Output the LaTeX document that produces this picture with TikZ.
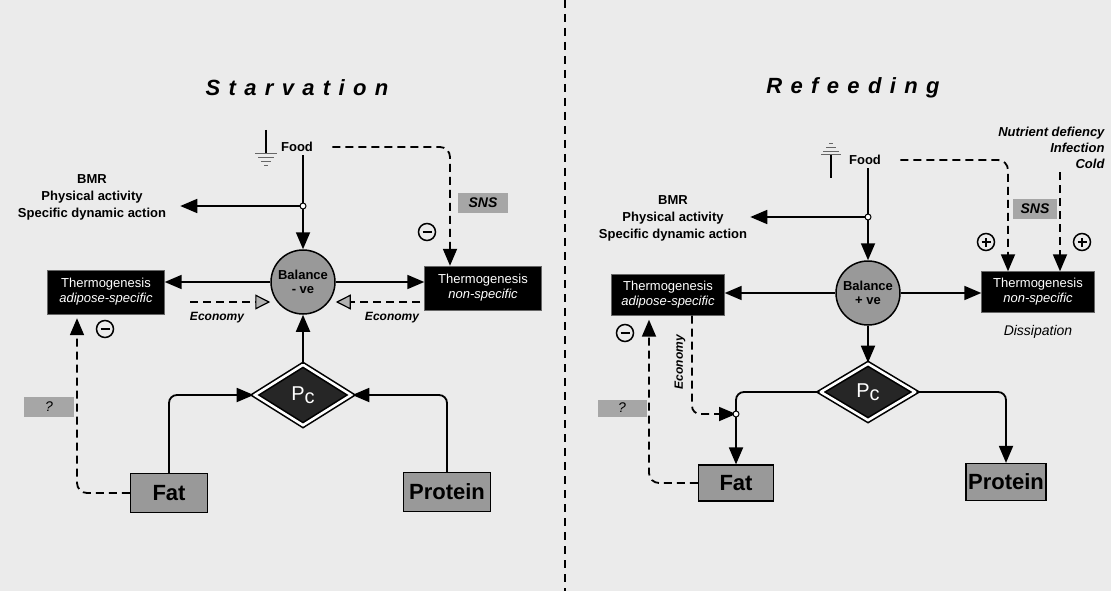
\documentclass[tikz,border=0pt]{standalone}
\usepackage{fontspec}
\setmainfont{Liberation Sans}
\usetikzlibrary{arrows.meta,shapes.geometric}

\begin{document}
\begin{tikzpicture}[x=1pt, y=-1pt,
  >={Triangle[length=17pt,width=14pt]},
  conn/.style={line width=1.8pt},
  dashline/.style={line width=1.8pt, dash pattern=on 8pt off 5pt},
  ecotip/.style={-{Triangle[length=15pt,width=15pt,open,fill=black!30,line width=1.2pt]}},
  title/.style={font=\fontsize{22}{26}\selectfont\bfseries\itshape\addfontfeature{LetterSpace=38}},
  label13/.style={font=\fontsize{13}{15}\selectfont\bfseries},
  bmr/.style={align=center, inner sep=2pt, font=\fontsize{13}{17}\selectfont\bfseries},
  bal/.style={circle, draw, line width=1.5pt, fill=black!40, minimum size=64pt, inner sep=0pt,
    align=center, font=\fontsize{13}{14}\selectfont\bfseries},
  thermo/.style={fill=black, draw=black!60, text=white, minimum width=117pt, minimum height=44pt,
    align=center, inner sep=1pt, font=\fontsize{13}{15}\selectfont},
  store/.style={draw, line width=1.2pt, fill=black!40, minimum height=39pt, inner sep=2pt,
    font=\fontsize{22}{24}\selectfont\bfseries},
  pcbox/.style={diamond, draw=black, line width=1.6pt, double=white, double distance=2.6pt,
    fill=black!85, text=white, inner sep=0pt, minimum width=97pt, minimum height=61pt,
    font=\fontsize{20}{20}\selectfont},
  tag/.style={fill=black!35, minimum width=50pt, minimum height=20pt, inner sep=0pt,
    font=\fontsize{14}{14}\selectfont\bfseries\itshape},
  sign/.style={circle, draw, line width=1.5pt, minimum size=17pt, inner sep=0pt},
  minus/.style={sign, path picture={\draw[line width=2pt]
    ([xshift=-4.5pt]path picture bounding box.center) -- ([xshift=4.5pt]path picture bounding box.center);}},
  plus/.style={sign, path picture={\draw[line width=1.6pt]
    ([xshift=-4.5pt]path picture bounding box.center) -- ([xshift=4.5pt]path picture bounding box.center)
    ([yshift=-4.5pt]path picture bounding box.center) -- ([yshift=4.5pt]path picture bounding box.center);}},
  eco/.style={font=\fontsize{12}{12}\selectfont\bfseries\itshape},
  junc/.style={circle, draw, fill=white, line width=1pt, inner sep=0pt, minimum size=6pt}]

\useasboundingbox (0,0) rectangle (1111,591);
\fill[black!8] (0,0) rectangle (1111,591);
\draw[line width=1.5pt, dash pattern=on 8pt off 6pt] (565,0) -- (565,591);

% starvation
\node[title] (titL) at (297,88) {Starvation};
\node[label13] (foodL) at (297,147) {Food};
\node[bmr] (bmrL) at (92,197) {BMR\\Physical activity\\Specific dynamic action};
\node[bal] (balL) at (303,282) {Balance\\- ve};
\node[thermo] (tasL) at (106,292) {Thermogenesis\\\textit{adipose-specific}};
\node[thermo] (tnsL) at (483,288) {Thermogenesis\\\textit{non-specific}};
\node[pcbox] (pcL) at (303,395) {P\raisebox{-3pt}{c}};
\node[store, minimum width=77pt] (fatL) at (169,493) {Fat};
\node[store, minimum width=87pt] (proL) at (447,492) {Protein};
\node[tag] (snsL) at (483,203) {SNS};
\node[tag, font=\fontsize{14}{14}\selectfont\itshape] (qL) at (49,407) {?};
\node[minus] (mL1) at (427,232) {};
\node[minus] (mL2) at (105,329) {};
\node[eco] (ecoL1) at (217,318) {Economy};
\node[eco] (ecoL2) at (392,318) {Economy};

\draw[line width=1.2pt] (266,130) -- (266,154);
\draw[black!60, line width=1pt] (255,154) -- (277,154) (258,158) -- (274,158) (261,162) -- (271,162) (264,165) -- (268,165);

\coordinate (jL) at (303,206);
\coordinate (bmrLtip) at ([xshift=12pt]bmrL.east);
\coordinate (snsLin) at ([xshift=-33pt]tnsL.north);
\coordinate (qLin) at ([xshift=-29pt]tasL.south);
\coordinate (ecoLa) at (190,302);
\coordinate (ecoLb) at (420,302);

\draw[conn,->] (balL.north |- foodL.south) -- (balL.north);
\draw[conn,->] (jL) -- (jL -| bmrLtip);
\draw[conn,->] (balL.west) -- (balL.west -| tasL.east);
\draw[conn,->] (balL.east) -- (balL.east -| tnsL.west);
\draw[conn,->] (pcL.north) -- (balL.south);
\draw[conn,->,rounded corners=8pt] (fatL.north) |- (pcL.west);
\draw[conn,->,rounded corners=8pt] (proL.north) |- (pcL.east);
\draw[dashline,->,rounded corners=10pt] ([xshift=16pt]foodL.east) -| (snsLin);
\draw[dashline,->,rounded corners=10pt,shorten >=4pt] (fatL.west) -| (qLin);
\draw[dashline,ecotip] (ecoLa) -- (ecoLa -| balL.west);
\draw[dashline,ecotip] (ecoLb) -- (ecoLb -| balL.east);
\node[junc] at (jL) {};

% refeeding
\node[title] (titR) at (853,88) {Refeeding};
\node[label13] (foodR) at (865,160) {Food};
\node[bmr] (bmrR) at (673,218) {BMR\\Physical activity\\Specific dynamic action};
\node[bal] (balR) at (868,293) {Balance\\+ ve};
\node[thermo, minimum width=113pt, minimum height=41pt] (tasR) at (668,295) {Thermogenesis\\\textit{adipose-specific}};
\node[thermo, minimum width=113pt, minimum height=41pt] (tnsR) at (1038,292) {Thermogenesis\\\textit{non-specific}};
\node[font=\fontsize{14}{14}\selectfont\itshape] (dissip) at (1038,332) {Dissipation};
\node[align=right, anchor=east, font=\fontsize{13}{16}\selectfont\bfseries\itshape] (nut) at (1108,148) {Nutrient defiency\\Infection\\Cold};
\node[pcbox, minimum width=95pt, minimum height=57pt] (pcR) at (868,392) {P\raisebox{-3pt}{c}};
\node[store, minimum width=75pt, minimum height=36pt] (fatR) at (736,483) {Fat};
\node[store, minimum width=80pt, minimum height=37pt] (proR) at (1006,482) {Protein};
\node[tag, minimum width=44pt] (snsR) at (1035,209) {SNS};
\node[tag, minimum width=49pt, minimum height=17pt, font=\fontsize{14}{14}\selectfont\itshape] (qR) at (622,408) {?};
\node[plus] (pR1) at (986,242) {};
\node[plus] (pR2) at (1082,242) {};
\node[minus] (mR) at (625,333) {};
\node[eco, rotate=90] (ecoR) at (680,362) {Economy};

\draw[line width=1.2pt] (831,155) -- (831,178);
\draw[black!60, line width=1pt] (821,155) -- (841,155) (823,152) -- (839,152) (826,148) -- (836,148) (829,144) -- (833,144);

\coordinate (jR) at (868,217);
\coordinate (jR2) at (736,414);
\coordinate (bmrRtip) at ([xshift=1pt]bmrR.east);
\coordinate (snsRin) at ([xshift=-30pt]tnsR.north);
\coordinate (nutRin) at ([xshift=22pt]tnsR.north);
\coordinate (qRin) at ([xshift=-19pt]tasR.south);
\coordinate (ecoRa) at ([xshift=24pt]tasR.south);

\draw[conn,->] (balR.north |- foodR.south) -- (balR.north);
\draw[conn,->] (jR) -- (jR -| bmrRtip);
\draw[conn,->] (balR.west) -- (balR.west -| tasR.east);
\draw[conn,->] (balR.east) -- (balR.east -| tnsR.west);
\draw[conn,->] (balR.south) -- (pcR.north);
\draw[conn,->,rounded corners=8pt] (pcR.west) -| (fatR.north);
\draw[conn,->,rounded corners=8pt] (pcR.east) -| (proR.north);
\draw[dashline,->,rounded corners=10pt] ([xshift=16pt]foodR.east) -| (snsRin);
\draw[dashline,->] (nutRin |- nut.south) -- (nutRin);
\draw[dashline,->,rounded corners=10pt,shorten >=4pt] (fatR.west) -| (qRin);
\draw[dashline,->,rounded corners=8pt] (ecoRa) |- (jR2);
\node[junc] at (jR) {};
\node[junc] at (jR2) {};
\end{tikzpicture}
\end{document}
